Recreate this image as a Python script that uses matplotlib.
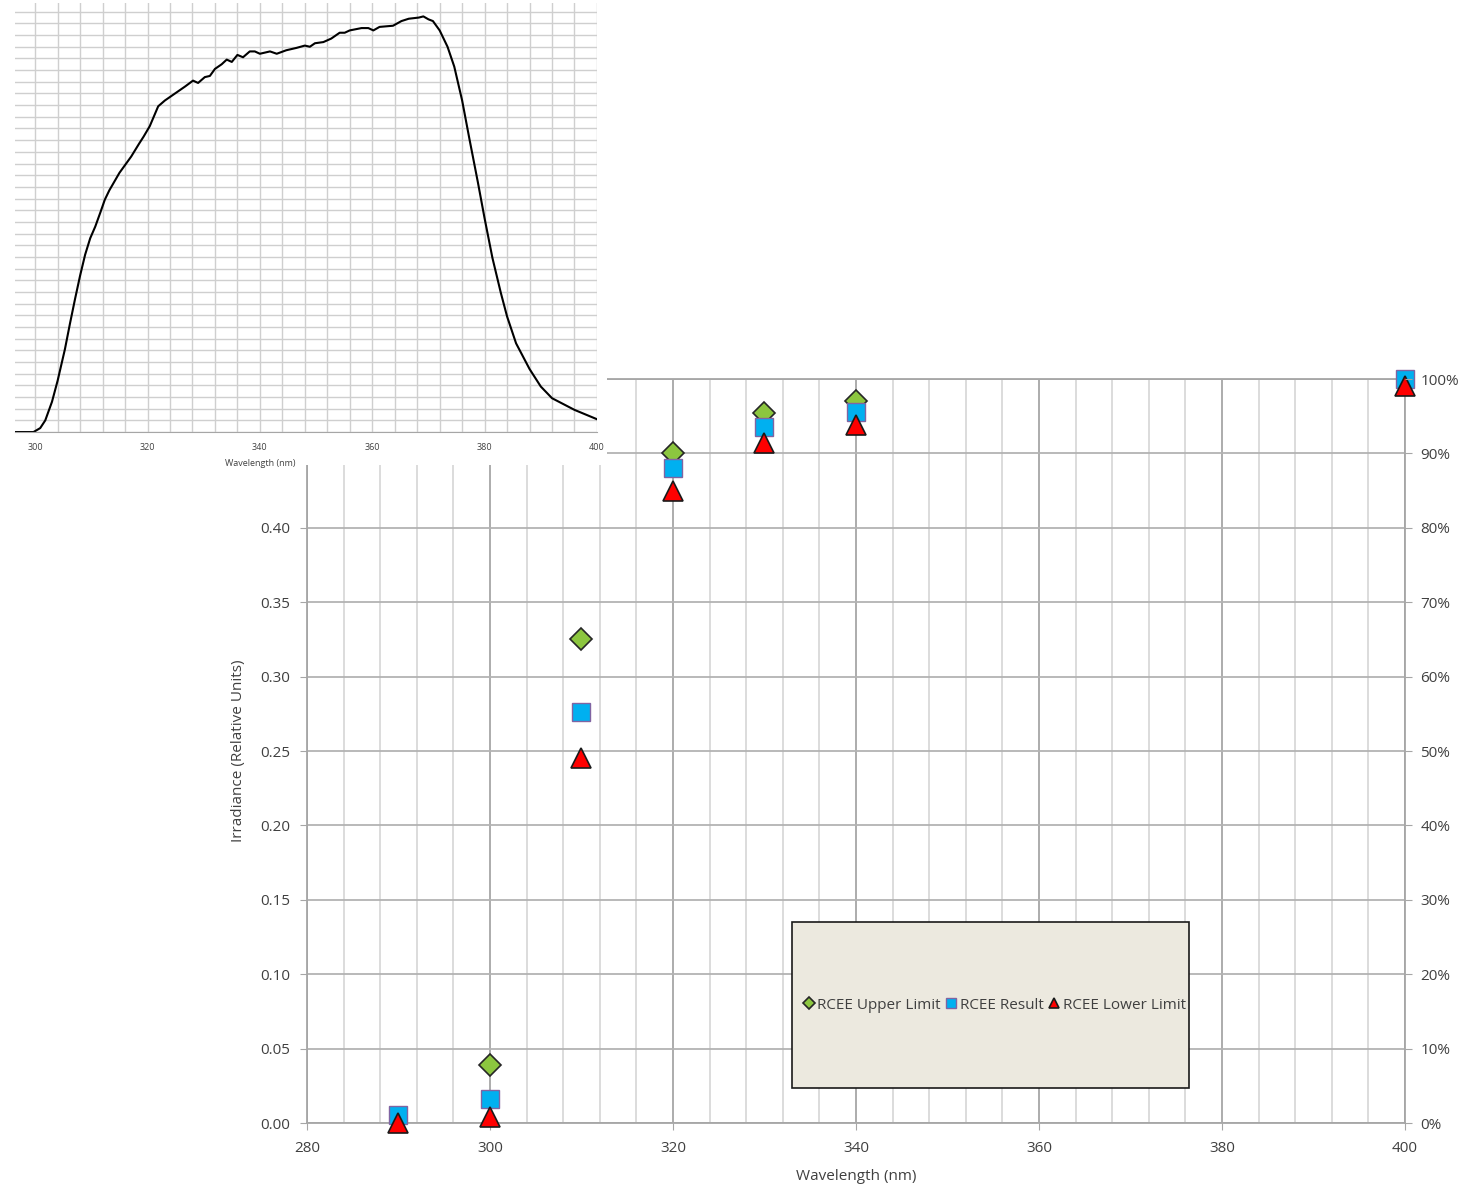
import matplotlib
matplotlib.use("Agg")
import matplotlib.pyplot as plt
import numpy as np
from matplotlib.patches import Rectangle
from matplotlib.ticker import MultipleLocator, PercentFormatter

# main chart data (left axis, relative units); nan = hidden behind other marker
wl = [290, 300, 310, 320, 330, 340, 400]
upper = [np.nan, 0.039, 0.325, 0.450, 0.477, 0.485, np.nan]
result = [0.0054, 0.016, 0.276, 0.440, 0.468, 0.478, 0.500]
lower = [0.000, 0.004, 0.245, 0.425, 0.457, 0.469, 0.495]

# inset spectrum (grid units)
sp_wl = [296.4, 299.7, 300.9, 301.8, 303.0, 304.0, 305.3, 306.2, 307.1, 308.0, 308.9,
         309.8, 310.7, 311.6, 312.4, 313.2, 315.0, 317.1, 318.5, 319.3, 320.4, 321.9,
         323.1, 325.2, 326.7, 328.1, 329.0, 330.2, 331.1, 332.0, 333.2, 334.1, 335.0,
         336.0, 337.0, 338.2, 339.1, 340.0, 341.8, 343.0, 344.7, 346.5, 348.0, 348.9,
         349.8, 351.3, 352.7, 354.2, 355.1, 356.0, 358.1, 359.3, 360.2, 361.3, 363.7,
         365.2, 366.5, 368.3, 369.1, 370.0, 370.8, 372.0, 373.4, 374.6, 376.0, 377.3,
         378.8, 380.0, 381.4, 382.9, 384.0, 385.6, 388.0, 390.0, 392.0, 394.0, 396.0,
         398.0, 400.0]
sp_val = [0.0, 0.0, 0.34, 1.0, 2.6, 4.4, 7.1, 9.3, 11.4, 13.4, 15.2,
          16.6, 17.6, 18.8, 19.9, 20.7, 22.2, 23.6, 24.7, 25.3, 26.2, 27.9,
          28.4, 29.1, 29.6, 30.1, 29.9, 30.4, 30.5, 31.1, 31.5, 31.9, 31.7,
          32.3, 32.1, 32.6, 32.6, 32.4, 32.6, 32.4, 32.7, 32.9, 33.1, 33.0,
          33.3, 33.4, 33.7, 34.2, 34.2, 34.4, 34.6, 34.6, 34.4, 34.7, 34.8,
          35.2, 35.4, 35.5, 35.6, 35.35, 35.2, 34.4, 33.0, 31.3, 28.4, 25.1,
          21.4, 18.3, 14.9, 11.9, 9.9, 7.6, 5.4, 3.9, 2.9, 2.4, 1.9,
          1.5, 1.1]

plt.rcParams['font.family'] = ['Open Sans', 'DejaVu Sans']

fig = plt.figure(figsize=(14.78, 11.86), dpi=100)

# ---- main chart
ax = fig.add_axes([0.2077, 0.0531, 0.7429, 0.6273])
ax.set_zorder(0)
ax.set_xlim(280, 400)
ax.set_ylim(0, 0.5)
ax.xaxis.set_major_locator(MultipleLocator(20))
ax.xaxis.set_minor_locator(MultipleLocator(4))
ax.yaxis.set_major_locator(MultipleLocator(0.05))
# labels above 0.40 sit under the inset, so leave them out
ax.yaxis.set_major_formatter(lambda v, p: f"{v:.2f}" if v < 0.41 else "")
ax.grid(which='minor', axis='x', color='#d9d9d9', lw=1.3)
ax.grid(which='major', axis='x', color='#a6a6a6', lw=1.3)
ax.grid(which='major', axis='y', color='#b3b3b3', lw=1.3)
ax.set_axisbelow(True)
for s in ax.spines.values():
    s.set_color('#a6a6a6')
    s.set_linewidth(1.3)
ax.tick_params(which='major', length=5, color='#a6a6a6', labelsize=11, labelcolor='#404040')
ax.tick_params(axis='x', pad=8)
ax.tick_params(axis='y', pad=7)
ax.tick_params(which='minor', length=0)
ax.set_xlabel("Wavelength (nm)", fontsize=11, color='#404040', labelpad=9)
ax.set_ylabel("Irradiance (Relative Units)", fontsize=11, color='#404040', labelpad=10)

ax.plot(wl, upper, ls='none', marker='D', ms=11, mfc='#8cc63f', mec='#262626', mew=1.2,
        label='RCEE Upper Limit', clip_on=False, zorder=3)
ax.plot(wl, result, ls='none', marker='s', ms=13, mfc='#00b0f0', mec='#8064a2', mew=1.0,
        label='RCEE Result', clip_on=False, zorder=4)
ax.plot(wl, lower, ls='none', marker='^', ms=14, mfc='#ff0000', mec='#1a1a1a', mew=1.2,
        label='RCEE Lower Limit', clip_on=False, zorder=5)

ax2 = ax.twinx()
ax2.set_ylim(0, 1)
ax2.yaxis.set_major_locator(MultipleLocator(0.1))
ax2.yaxis.set_major_formatter(PercentFormatter(1.0, decimals=0))
ax2.tick_params(length=5, pad=6, color='#a6a6a6', labelsize=11, labelcolor='#404040')
for s in ax2.spines.values():
    s.set_visible(False)

# legend box
box = Rectangle((333.0, 0.0235), 43.4, 0.1116, transform=ax.transData,
                facecolor='#ece9df', edgecolor='#1a1a1a', lw=1.2, zorder=6)
ax.add_patch(box)
h, l = ax.get_legend_handles_labels()
leg = ax.legend(h, l, loc='center', bbox_to_anchor=(355.2, 0.0793), bbox_transform=ax.transData,
                ncol=3, frameon=False, fontsize=11, markerscale=0.55, handlelength=0.6,
                handletextpad=0.25, columnspacing=0.4, labelcolor='#404040')
leg.set_zorder(7)

# white area behind the inset
fig.add_artist(Rectangle((0, 1 - 465 / 1186), 607 / 1478, 465 / 1186,
                         transform=fig.transFigure, facecolor='white', edgecolor='none', zorder=1))

# ---- inset spectrum
ins = fig.add_axes([0.0101, 0.6357, 0.3938, 0.3618])
ins.set_zorder(2)
ins.set_xlim(296.4, 400)
ins.set_ylim(0, 36.75)
ins.xaxis.set_major_locator(MultipleLocator(20))
ins.xaxis.set_minor_locator(MultipleLocator(4))
ins.yaxis.set_major_locator(MultipleLocator(1))
ins.grid(which='both', color='#cfcfcf', lw=1.0)
ins.set_axisbelow(True)
ins.plot(sp_wl, sp_val, color='black', lw=1.5, solid_joinstyle='round')
for k in ['left', 'top', 'right']:
    ins.spines[k].set_visible(False)
ins.spines['bottom'].set_color('#a6a6a6')
ins.tick_params(axis='y', left=False, labelleft=False)
ins.tick_params(axis='x', which='both', length=0, labelsize=6.5, labelcolor='#404040', pad=8)
ins.set_xlabel("Wavelength (nm)", fontsize=6.5, color='#404040')
ins.xaxis.set_label_coords(0.421, -0.062)

fig.savefig("out.png", dpi=100)
